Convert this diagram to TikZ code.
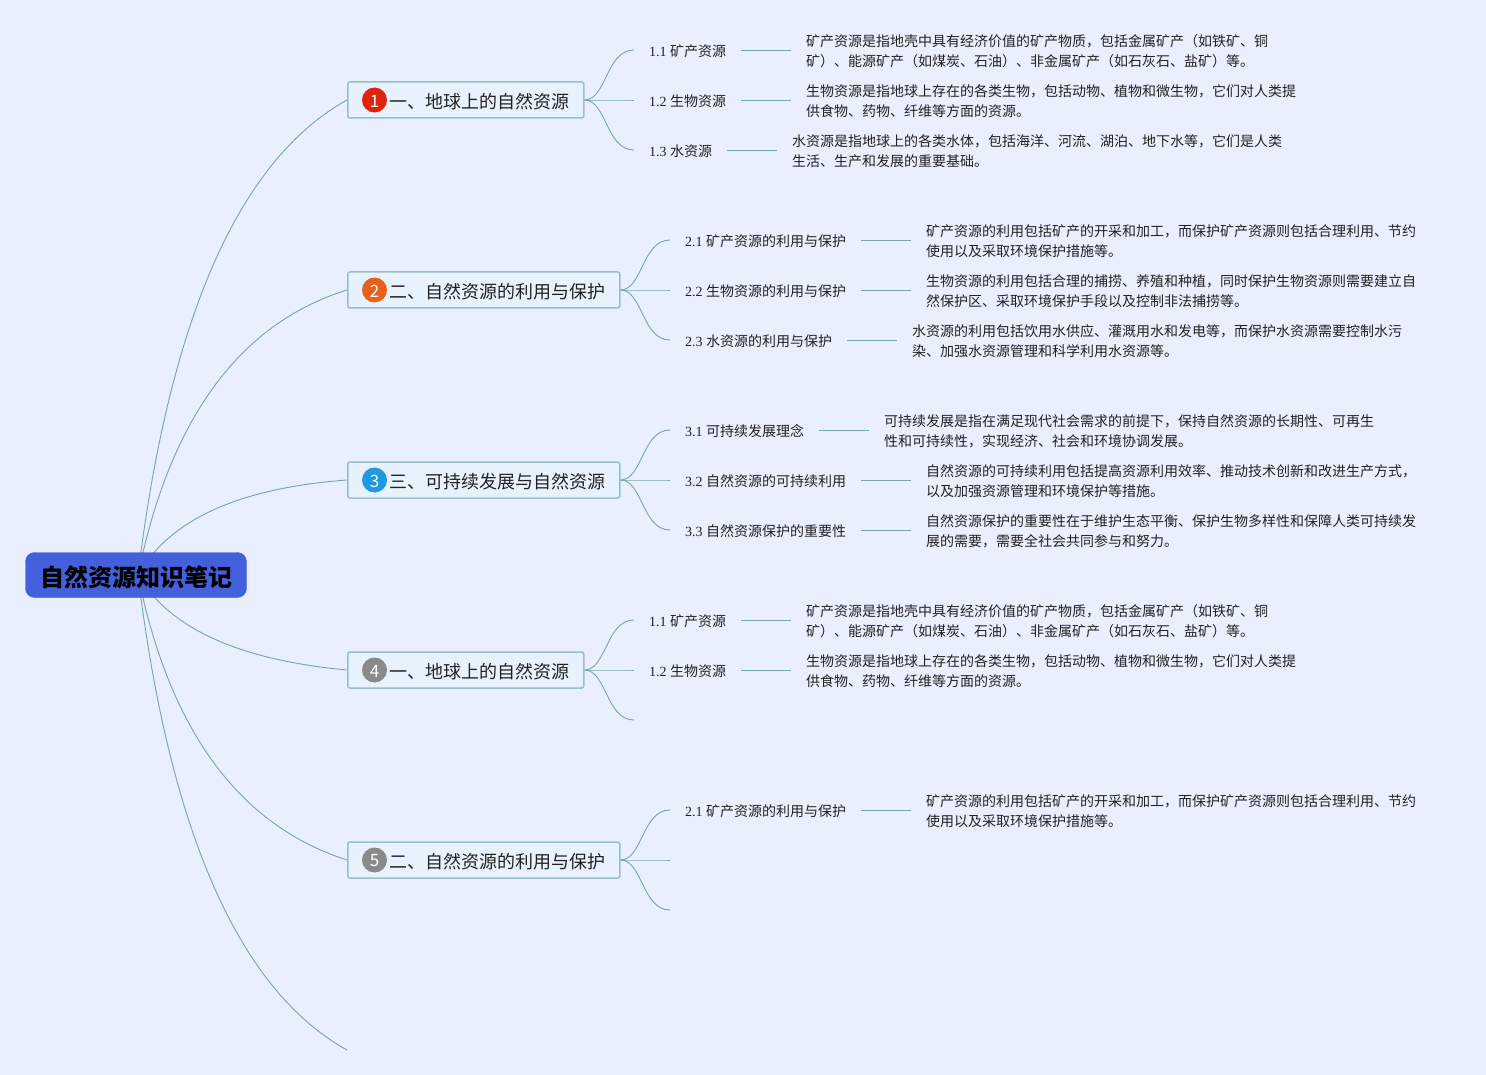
\documentclass[tikz,border=0pt]{standalone}
\usepackage{fontspec}
\setmainfont{Liberation Serif}
\newfontfamily\cjk{Noto Sans CJK SC}
\usetikzlibrary{backgrounds}
\definecolor{pagebg}{HTML}{E9EFFC}
\definecolor{rootfill}{HTML}{4560DC}
\definecolor{topicfill}{HTML}{E8F2FC}
\definecolor{topicline}{HTML}{9ABFC4}
\definecolor{linkc}{HTML}{78A5A8}
\definecolor{textc}{HTML}{222222}
\definecolor{bred}{HTML}{E0230F}
\definecolor{borange}{HTML}{E8601C}
\definecolor{bblue}{HTML}{1E9BE0}
\definecolor{bgray}{HTML}{8A8A8A}
\tikzset{
  rootnode/.style={draw=rootfill,fill=rootfill,rounded corners=9pt,minimum width=221pt,minimum height=45pt,inner sep=0pt,font=\fontsize{24}{28}\selectfont\cjk\bfseries,text=black},
  topicnode/.style={draw=topicline,line width=1.5pt,fill=topicfill,rounded corners=2pt,anchor=west,minimum height=36pt,inner xsep=14.2pt,inner ysep=0pt,font=\fontsize{18}{22}\selectfont\cjk,text=textc},
  badge/.style={circle,minimum size=25pt,inner sep=0pt,text=white,font=\fontsize{17}{20}\selectfont\cjk},
  subnode/.style={anchor=west,yshift=-1pt,inner xsep=15pt,inner ysep=0pt,font=\fontsize{14}{20}\selectfont,text=textc},
  detail/.style={anchor=west,align=left,inner xsep=15pt,inner ysep=0pt,font=\fontsize{14}{20}\selectfont\cjk,text=textc},
  conn/.style={draw=linkc,line width=0.9pt}
}
\newcommand{\mainlink}[3]{\draw[conn] ([xshift=2pt]root.center) .. controls #2 and #3 .. (#1);}
\newcommand{\brlink}[2]{\draw[conn] (#1) .. controls +(22,0) and +(-28,0) .. (#2);}
\newcommand{\sublab}[2]{#1 {\cjk #2}}
\newcommand{\topictext}[1]{\hspace*{27.6pt}\raisebox{-1.5pt}[\height][\depth]{#1}}
\newcommand{\badgetext}[1]{\raisebox{-1pt}[\height][\depth]{#1}}
\begin{document}
\begin{tikzpicture}[x=1pt,y=-1pt]
\useasboundingbox (0,0) rectangle (1486,1075);

\node[rootnode] (root) at (136,575) {\hspace*{1pt}\raisebox{-2pt}[\height][\depth]{自然资源知识笔记}};

\node[topicnode] (t1) at (347,100) {\topictext{一、地球上的自然资源}};
\node[topicnode] (t2) at (347,290) {\topictext{二、自然资源的利用与保护}};
\node[topicnode] (t3) at (347,480) {\topictext{三、可持续发展与自然资源}};
\node[topicnode] (t4) at (347,670) {\topictext{一、地球上的自然资源}};
\node[topicnode] (t5) at (347,860) {\topictext{二、自然资源的利用与保护}};
\coordinate (t6) at (347,1050);

\node[badge,fill=bred] (b1) at (374.5,100) {\badgetext{1}};
\node[badge,fill=borange] (b2) at (374.5,290) {\badgetext{2}};
\node[badge,fill=bblue] (b3) at (374.5,480) {\badgetext{3}};
\node[badge,fill=bgray] (b4) at (374.5,670) {\badgetext{4}};
\node[badge,fill=bgray] (b5) at (374.5,860) {\badgetext{5}};

\node[subnode] (s11) at (634,50) {\sublab{1.1}{矿产资源}};
\node[subnode] (s12) at (634,100) {\sublab{1.2}{生物资源}};
\node[subnode] (s13) at (634,150) {\sublab{1.3}{水资源}};
\node[subnode] (s21) at (670,240) {\sublab{2.1}{矿产资源的利用与保护}};
\node[subnode] (s22) at (670,290) {\sublab{2.2}{生物资源的利用与保护}};
\node[subnode] (s23) at (670,340) {\sublab{2.3}{水资源的利用与保护}};
\node[subnode] (s31) at (670,430) {\sublab{3.1}{可持续发展理念}};
\node[subnode] (s32) at (670,480) {\sublab{3.2}{自然资源的可持续利用}};
\node[subnode] (s33) at (670,530) {\sublab{3.3}{自然资源保护的重要性}};
\node[subnode] (s41) at (634,620) {\sublab{1.1}{矿产资源}};
\node[subnode] (s42) at (634,670) {\sublab{1.2}{生物资源}};
\coordinate (s43) at (634,720);
\node[subnode] (s51) at (670,810) {\sublab{2.1}{矿产资源的利用与保护}};
\coordinate (s52) at (670,860);
\coordinate (s53) at (670,910);

\node[detail] (d11) at ([xshift=49.6pt]s11.east) {矿产资源是指地壳中具有经济价值的矿产物质，包括金属矿产（如铁矿、铜\\矿）、能源矿产（如煤炭、石油）、非金属矿产（如石灰石、盐矿）等。};
\node[detail] (d12) at ([xshift=49.6pt]s12.east) {生物资源是指地球上存在的各类生物，包括动物、植物和微生物，它们对人类提\\供食物、药物、纤维等方面的资源。};
\node[detail] (d13) at ([xshift=49.6pt]s13.east) {水资源是指地球上的各类水体，包括海洋、河流、湖泊、地下水等，它们是人类\\生活、生产和发展的重要基础。};
\node[detail] (d21) at ([xshift=49.6pt]s21.east) {矿产资源的利用包括矿产的开采和加工，而保护矿产资源则包括合理利用、节约\\使用以及采取环境保护措施等。};
\node[detail] (d22) at ([xshift=49.6pt]s22.east) {生物资源的利用包括合理的捕捞、养殖和种植，同时保护生物资源则需要建立自\\然保护区、采取环境保护手段以及控制非法捕捞等。};
\node[detail] (d23) at ([xshift=49.6pt]s23.east) {水资源的利用包括饮用水供应、灌溉用水和发电等，而保护水资源需要控制水污\\染、加强水资源管理和科学利用水资源等。};
\node[detail] (d31) at ([xshift=49.6pt]s31.east) {可持续发展是指在满足现代社会需求的前提下，保持自然资源的长期性、可再生\\性和可持续性，实现经济、社会和环境协调发展。};
\node[detail] (d32) at ([xshift=49.6pt]s32.east) {自然资源的可持续利用包括提高资源利用效率、推动技术创新和改进生产方式，\\以及加强资源管理和环境保护等措施。};
\node[detail] (d33) at ([xshift=49.6pt]s33.east) {自然资源保护的重要性在于维护生态平衡、保护生物多样性和保障人类可持续发\\展的需要，需要全社会共同参与和努力。};
\node[detail] (d41) at ([xshift=49.6pt]s41.east) {矿产资源是指地壳中具有经济价值的矿产物质，包括金属矿产（如铁矿、铜\\矿）、能源矿产（如煤炭、石油）、非金属矿产（如石灰石、盐矿）等。};
\node[detail] (d42) at ([xshift=49.6pt]s42.east) {生物资源是指地球上存在的各类生物，包括动物、植物和微生物，它们对人类提\\供食物、药物、纤维等方面的资源。};
\node[detail] (d51) at ([xshift=49.6pt]s51.east) {矿产资源的利用包括矿产的开采和加工，而保护矿产资源则包括合理利用、节约\\使用以及采取环境保护措施等。};

\begin{scope}[on background layer]
\fill[pagebg] (0,0) rectangle (1486,1075);
\mainlink{t1.west}{(169.3,318.3)}{(239,160)}
\mainlink{t2.west}{(170,418.3)}{(239.7,323.3)}
\mainlink{t3.west}{(169.3,519.7)}{(239,488)}
\mainlink{t4.west}{(169.3,628.3)}{(239,660)}
\mainlink{t5.west}{(169.3,730.3)}{(239,825.3)}
\mainlink{t6}{(169.3,831.7)}{(239,990)}
\brlink{t1.east}{[yshift=1pt]s11.west}\brlink{t1.east}{[yshift=1pt]s12.west}\brlink{t1.east}{[yshift=1pt]s13.west}
\brlink{t2.east}{[yshift=1pt]s21.west}\brlink{t2.east}{[yshift=1pt]s22.west}\brlink{t2.east}{[yshift=1pt]s23.west}
\brlink{t3.east}{[yshift=1pt]s31.west}\brlink{t3.east}{[yshift=1pt]s32.west}\brlink{t3.east}{[yshift=1pt]s33.west}
\brlink{t4.east}{[yshift=1pt]s41.west}\brlink{t4.east}{[yshift=1pt]s42.west}\brlink{t4.east}{s43}
\brlink{t5.east}{[yshift=1pt]s51.west}\brlink{t5.east}{s52}\brlink{t5.east}{s53}
\foreach \a/\b in {s11/d11,s12/d12,s13/d13,s21/d21,s22/d22,s23/d23,s31/d31,s32/d32,s33/d33,s41/d41,s42/d42,s51/d51}{
  \draw[conn] ([yshift=1pt]\a.east) -- ([yshift=1pt]\b.west);
}
\end{scope}
\end{tikzpicture}
\end{document}
